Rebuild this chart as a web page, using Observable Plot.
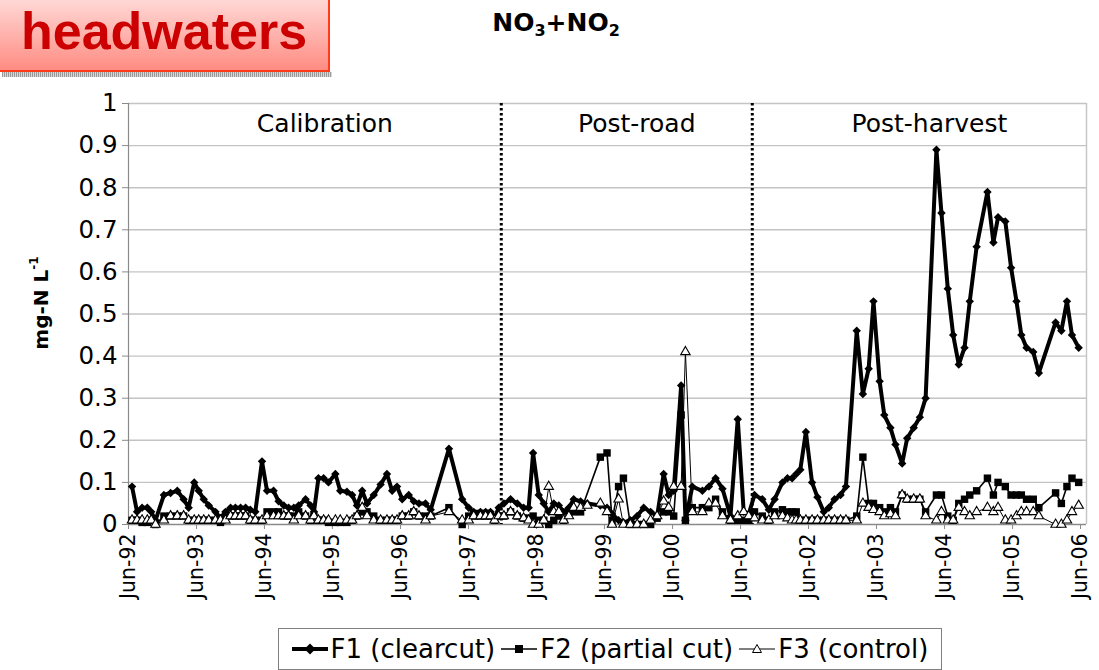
<!DOCTYPE html>
<html><head><meta charset="utf-8">
<script src="https://cdn.jsdelivr.net/npm/d3@7"></script>
<script src="https://cdn.jsdelivr.net/npm/@observablehq/plot@0.6"></script>
<style>
body{margin:0;background:#fff;}
#page{position:relative;width:1099px;height:670px;overflow:hidden;font-family:"DejaVu Sans",sans-serif;color:#000;}
#chart{position:absolute;left:0;top:0;}
#tbox{position:absolute;left:0;top:0;width:328px;height:70px;background:linear-gradient(#ffd8d6,#ff8c82);border-right:2px solid #ff3b1a;border-bottom:2px solid #ff3b1a;}
#tshadow{position:absolute;left:2px;top:72px;width:330px;height:5px;background:repeating-linear-gradient(90deg,#9a9a9a 0 1px,#d8d8d8 1px 2px);}
#tbox span{position:absolute;left:21px;top:5px;font-family:"Liberation Sans",Arial,sans-serif;font-weight:bold;font-size:52px;color:#cc0000;line-height:1;}
#ctitle{position:absolute;left:556px;top:8px;transform:translateX(-50%);font-weight:bold;font-size:25px;white-space:nowrap;}
#ctitle sub{font-size:16px;vertical-align:-5px;}
#ylab{position:absolute;left:40px;top:303px;transform:translate(-50%,-50%) rotate(-90deg);font-weight:bold;font-size:20px;white-space:nowrap;}
#ylab sup{font-size:12px;vertical-align:10px;}
#legend{position:absolute;left:278px;top:628px;width:662px;height:40px;border:1px solid #808080;display:flex;align-items:center;justify-content:center;font-size:26px;white-space:nowrap;}
#legend .it{display:flex;align-items:center;margin:0 3px;}
#legend svg{margin-right:3px;}
</style></head><body>
<div id="page">
  <div id="chart"></div>
  <div id="tshadow"></div>
  <div id="tbox"><span>headwaters</span></div>
  <div id="ctitle">NO<sub>3</sub>+NO<sub>2</sub></div>
  <div id="ylab">mg-N L<sup>-1</sup></div>
  <div id="legend"></div>
</div>
<script>
// ---- data ----
const sampleDates = [
"1992-06-20","1992-07-17","1992-08-13","1992-09-10","1992-10-01","1992-10-24","1992-12-08","1993-01-13","1993-02-18","1993-03-24",
"1993-04-20","1993-05-20","1993-06-13","1993-07-10","1993-08-06","1993-09-11","1993-10-08","1993-11-04","1993-12-01","1993-12-27",
"1994-01-24","1994-02-20","1994-03-17","1994-04-13","1994-05-19","1994-06-15","1994-07-20","1994-08-16","1994-09-13","1994-10-09",
"1994-11-06","1994-12-02","1995-01-08","1995-02-04","1995-02-22","1995-03-18","1995-04-15","1995-05-11","1995-06-17","1995-07-13",
"1995-08-18","1995-09-15","1995-10-11","1995-11-08","1995-12-04","1996-01-09","1996-02-15","1996-03-20","1996-04-17","1996-05-13",
"1996-06-10","1996-07-15","1996-08-11","1996-09-08","1996-10-13","1996-11-10","1997-02-16","1997-04-28","1997-06-02","1997-06-29",
"1997-08-04","1997-09-01","1997-09-27","1997-10-19","1997-11-10","1997-12-08","1998-01-13","1998-02-18","1998-03-24","1998-04-20",
"1998-05-14","1998-06-13","1998-07-10","1998-08-06","1998-09-02","1998-09-29","1998-10-25","1998-11-22","1998-12-18","1999-01-24",
"1999-03-01","1999-05-10","1999-06-15","1999-07-12","1999-08-16","1999-09-11","1999-10-18","1999-11-24","1999-12-29","2000-02-04",
"2000-03-10","2000-04-14","2000-05-11","2000-06-07",
"2000-07-17","2000-08-09","2000-09-15","2000-11-08","2000-12-13",
"2001-01-18","2001-02-24","2001-04-08","2001-05-17","2001-06-18","2001-07-15",
"2001-08-15","2001-09-26","2001-10-31","2001-12-01","2002-01-12","2002-02-08","2002-03-05","2002-03-27","2002-04-18","2002-05-18",
"2002-06-20","2002-07-19","2002-08-22","2002-09-18","2002-10-19","2002-11-20","2002-12-19","2003-02-15","2003-03-20","2003-04-20",
"2003-05-16","2003-06-18","2003-07-13","2003-08-15","2003-09-11","2003-10-17","2003-11-13","2003-12-18","2004-01-20","2004-02-20",
"2004-04-18","2004-05-15","2004-06-18","2004-07-17","2004-08-16","2004-09-16","2004-10-14","2004-11-20","2005-01-17","2005-02-18",
"2005-03-15","2005-04-23","2005-05-24","2005-06-22","2005-07-18","2005-08-15","2005-09-20","2005-10-20","2006-01-18","2006-02-18",
"2006-03-20","2006-04-16","2006-05-22"];

const f1Clearcut = [
0.09,0.03,0.04,0.04,0.03,0.01,0.07,0.075,0.08,0.06,
0.04,0.10,0.08,0.06,0.045,0.03,0.015,0.03,0.04,0.04,
0.04,0.04,0.035,0.03,0.15,0.08,0.08,0.055,0.045,0.04,
0.04,0.045,0.06,0.045,0.03,0.11,0.11,0.10,0.12,0.08,
0.078,0.07,0.045,0.08,0.05,0.07,0.095,0.12,0.08,0.09,
0.06,0.07,0.055,0.05,0.05,0.035,0.18,0.06,0.04,0.03,
0.03,0.03,0.03,0.015,0.04,0.05,0.06,0.05,0.04,0.04,
0.17,0.07,0.05,0.03,0.05,0.045,0.03,0.04,0.06,0.055,
0.05,0.045,0.04,0.025,0.01,0.005,0.01,0.02,0.04,0.03,
0.02,0.12,0.07,0.08,
0.33,0.01,0.09,0.08,0.09,
0.11,0.085,0.02,0.25,0.03,0.025,
0.07,0.06,0.035,0.06,0.10,0.11,0.11,0.12,0.13,0.22,
0.10,0.065,0.03,0.04,0.06,0.07,0.09,0.46,0.31,0.37,
0.53,0.34,0.26,0.23,0.19,0.145,0.205,0.23,0.255,0.30,
0.89,0.74,0.56,0.45,0.38,0.42,0.53,0.66,0.79,0.67,
0.73,0.72,0.61,0.53,0.45,0.42,0.41,0.36,0.48,0.46,
0.53,0.45,0.42];

const f2PartialCut = [
0.01,0.01,0.005,0.005,0.01,0.0,0.02,0.02,0.02,0.02,
0.01,0.01,0.01,0.01,0.01,0.01,0.005,0.02,0.02,0.02,
0.02,0.02,0.01,0.01,0.01,0.03,0.03,0.03,0.02,0.02,
0.02,0.03,0.02,0.01,0.02,0.01,0.01,0.005,0.005,0.005,
0.005,0.01,0.02,0.03,0.03,0.02,0.01,0.01,0.01,0.01,
0.02,0.02,0.03,0.02,0.02,0.02,0.04,0.0,0.02,0.02,
0.02,0.02,0.02,0.01,0.02,0.02,0.03,0.02,0.015,0.015,
0.02,0.01,0.01,0.0,0.01,0.02,0.01,0.03,0.03,0.03,
null,0.16,0.17,0.01,0.09,0.11,0.0,0.0,0.0,0.0,
0.015,0.03,0.03,0.02,
0.26,0.01,0.04,0.04,0.04,
0.06,0.03,0.01,0.01,0.01,0.01,
0.03,0.02,0.01,0.03,0.035,0.03,0.03,0.03,0.01,0.01,
0.01,0.01,0.01,0.01,0.01,0.01,0.01,0.02,0.16,0.05,
0.05,0.04,0.03,0.04,0.03,0.07,0.06,0.06,0.06,0.03,
0.07,0.07,0.02,0.01,0.05,0.06,0.07,0.08,0.11,0.07,
0.10,0.09,0.07,0.07,0.07,0.06,0.06,0.04,0.075,0.05,
0.09,0.11,0.10];

const f3Control = [
0.01,0.01,0.01,0.01,0.01,0.0,0.01,0.02,0.02,0.02,
0.01,0.01,0.01,0.01,0.01,0.01,0.01,0.01,0.02,0.02,
0.02,0.02,0.01,0.01,0.01,0.02,0.02,0.02,0.02,0.02,
0.01,0.02,0.02,0.01,0.02,0.01,0.01,0.01,0.01,0.01,
0.01,0.01,0.02,0.04,0.02,0.01,0.01,0.01,0.01,0.01,
0.02,0.02,0.03,0.02,0.01,0.02,0.03,0.01,0.01,0.02,
0.02,0.02,0.02,0.01,0.02,0.02,0.03,0.02,0.015,0.01,
0.0,0.0,0.01,0.09,0.03,0.03,0.01,0.02,0.04,0.04,
0.045,0.05,0.03,0.0,0.06,0.0,0.0,0.0,0.0,0.01,
0.02,0.055,0.04,0.09,
0.09,0.41,0.03,0.03,0.05,
0.05,0.02,0.01,0.02,0.03,0.02,
0.015,0.01,0.01,0.02,0.02,0.015,0.01,0.01,0.01,0.01,
0.01,0.01,0.01,0.01,0.01,0.01,0.01,0.01,0.05,0.04,
0.035,0.03,0.02,0.025,0.02,0.07,0.06,0.06,0.06,0.02,
0.01,0.03,0.01,0.01,0.04,0.03,0.02,0.03,0.04,0.03,
0.04,0.01,0.01,0.02,0.03,0.03,0.03,0.02,0.0,0.0,
0.01,0.03,0.045];

const seriesNames = ["F1 (clearcut)", "F2 (partial cut)", "F3 (control)"];
const periodNames = ["Calibration", "Post-road", "Post-harvest"];
const periodBounds = ["1992-06-01", "1997-11-24", "2001-08-03", "2006-07-03"];
const yTicks = [0, 0.1, 0.2, 0.3, 0.4, 0.5, 0.6, 0.7, 0.8, 0.9, 1];
const xTickYears = [1992,1993,1994,1995,1996,1997,1998,1999,2000,2001,2002,2003,2004,2005,2006];

// ---- build ----
const parse = s => new Date(s + "T00:00:00Z");
const rows = (vals) => sampleDates.map((d, i) => ({date: parse(d), v: vals[i]})).filter(r => r.v != null);
const s1 = rows(f1Clearcut), s2 = rows(f2PartialCut), s3 = rows(f3Control);
const bounds = periodBounds.map(parse);
const periods = periodNames.map((name, i) => ({name, mid: new Date((+bounds[i] + +bounds[i + 1]) / 2)}));
const xTicks = xTickYears.map(y => new Date(Date.UTC(y, 5, 1)));
const mon = ["Jan","Feb","Mar","Apr","May","Jun","Jul","Aug","Sep","Oct","Nov","Dec"];
const fmtX = d => mon[d.getUTCMonth()] + "-" + String(d.getUTCFullYear()).slice(2);

const chart = Plot.plot({
  width: 1099, height: 670,
  marginLeft: 128, marginRight: 13, marginTop: 103, marginBottom: 146,
  style: {fontFamily: "'DejaVu Sans', sans-serif", color: "#000", background: "transparent", overflow: "visible"},
  x: {type: "utc", domain: [bounds[0], bounds[3]]},
  y: {domain: [0, 1]},
  marks: [
    Plot.ruleY(yTicks.filter(d => d > 0), {stroke: "#c4c4c4", strokeWidth: 1.4}),
    Plot.ruleX([bounds[3]], {stroke: "#c4c4c4", strokeWidth: 1.4}),
    Plot.axisY(yTicks, {tickFormat: d => String(d), fontSize: 24.5, tickSize: 6, tickPadding: 5, stroke: "#8a8a8a", label: null}),
    Plot.axisX(xTicks, {tickFormat: fmtX, tickRotate: -90, fontSize: 20.5, tickSize: 5, tickPadding: 4, stroke: "#8a8a8a", label: null}),
    Plot.ruleX([bounds[0]], {stroke: "#8a8a8a", strokeWidth: 1.2}),
    Plot.ruleY([0], {stroke: "#8a8a8a", strokeWidth: 1.4}),
    Plot.ruleX(bounds.slice(1, 3), {stroke: "#000", strokeWidth: 3, strokeDasharray: "2.6,2.4"}),
    Plot.text(periods, {x: "mid", text: "name", frameAnchor: "top", lineAnchor: "top", dy: 11, dx: 10, fontSize: 25, fill: "#000"}),
    Plot.line(s1, {x: "date", y: "v", stroke: "#000", strokeWidth: 4, strokeLinejoin: "round"}),
    Plot.dot(s1, {x: "date", y: "v", symbol: "diamond2", r: 3.8, fill: "#000"}),
    Plot.line(s2, {x: "date", y: "v", stroke: "#000", strokeWidth: 1.6}),
    Plot.dot(s2, {x: "date", y: "v", symbol: "square", r: 4.2, fill: "#000"}),
    Plot.line(s3, {x: "date", y: "v", stroke: "#000", strokeWidth: 1}),
    Plot.dot(s3, {x: "date", y: "v", symbol: "triangle", r: 3.5, fill: "#fff", stroke: "#000", strokeWidth: 1.1})
  ]
});
document.getElementById("chart").appendChild(chart);

// legend
const marker = [
  '<path d="M18 4.5 L23.5 10 L18 15.5 L12.5 10 Z" fill="#000"/>',
  '<rect x="14" y="6" width="8" height="8" fill="#000"/>',
  '<path d="M18 5.5 L22.5 13.5 L13.5 13.5 Z" fill="#fff" stroke="#000" stroke-width="1"/>'
];
const widths = [4, 1.6, 1];
const leg = document.getElementById("legend");
seriesNames.forEach((name, i) => {
  const it = document.createElement("div");
  it.className = "it";
  it.innerHTML = '<svg width="36" height="20"><line x1="0" x2="36" y1="10" y2="10" stroke="#000" stroke-width="' + widths[i] + '"/>' + marker[i] + '</svg><span>' + name + '</span>';
  leg.appendChild(it);
});
</script>
</body></html>
